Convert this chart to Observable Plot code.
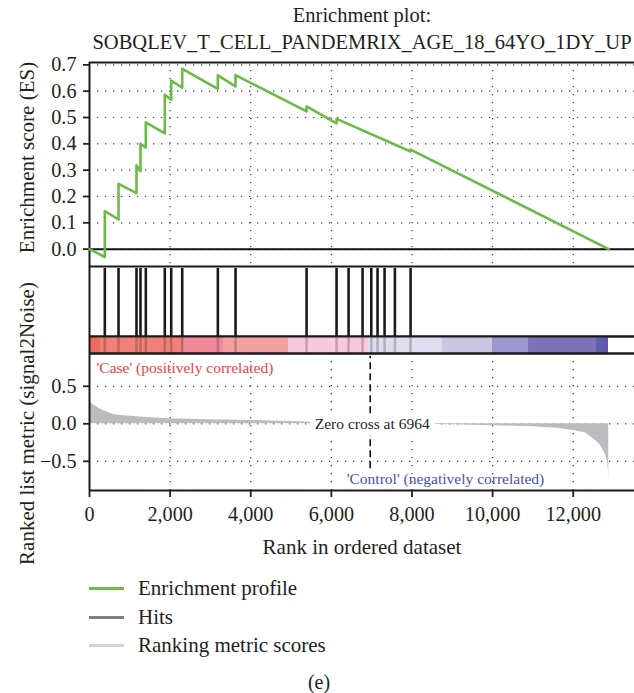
<!DOCTYPE html>
<html><head><meta charset="utf-8">
<script src="https://cdn.jsdelivr.net/npm/d3@7"></script>
<script src="https://cdn.jsdelivr.net/npm/@observablehq/plot@0.6"></script>
<style>
body{margin:0;background:#fff;}
#root{position:relative;width:634px;height:693px;font-family:"Liberation Serif",serif;color:#231f20;overflow:hidden;background:#fff}
#root svg{position:absolute;left:0;}
g[aria-label$="-axis tick"]{stroke-width:1.8px}
.leg{position:absolute;left:89px;height:24px;display:flex;align-items:center;font-size:21px;white-space:nowrap}
.sw{width:35px;height:3px;margin-right:14px}
</style></head><body><div id="root"></div>
<script>
// ---- text ----
const titleLines = ["Enrichment plot:", "SOBQLEV_T_CELL_PANDEMRIX_AGE_18_64YO_1DY_UP"];
const esAxisLabel = "Enrichment score (ES)";
const metricAxisLabel = "Ranked list metric (signal2Noise)";
const xAxisLabel = "Rank in ordered dataset";
const caseLabel = "'Case' (positively correlated)";
const controlLabel = "'Control' (negatively correlated)";
const zeroCross = 6964;
const legendLabels = ["Enrichment profile", "Hits", "Ranking metric scores"];
const legendColors = ["#6cbb45", "#7f7f7f", "#d3d3d3"];
const panelLabel = "(e)";

// ---- ticks ----
const xTicks = [0, 2000, 4000, 6000, 8000, 10000, 12000];
const esTicks = [0, 0.1, 0.2, 0.3, 0.4, 0.5, 0.6, 0.7];
const metricTicks = [-0.5, 0, 0.5];

// ---- data ----
const hitRanks = [380, 720, 1166, 1265, 1397, 1868, 2027, 2300, 3184, 3623, 5385, 6129, 6427, 6774, 6990, 7146, 7320, 7576, 7965];
const esRanks  = [0, 380, 380, 720, 720, 1166, 1166, 1265, 1265, 1397, 1397, 1868, 1868, 2027, 2027, 2300, 2300, 3184, 3184, 3623, 3623, 5385, 5385, 6129, 6129, 7965, 7965, 12880];
const esValues = [0, -0.03, 0.144, 0.113, 0.248, 0.213, 0.318, 0.296, 0.40, 0.386, 0.482, 0.44, 0.586, 0.568, 0.64, 0.613, 0.685, 0.609, 0.66, 0.618, 0.661, 0.523, 0.542, 0.478, 0.495, 0.371, 0.378, 0];
const metricRanks  = [0, 100, 250, 440, 600, 770, 1100, 1500, 2000, 3000, 4000, 5000, 5500, 6000, 6964, 8000, 9000, 10000, 11000, 11600, 12000, 12300, 12500, 12650, 12720, 12800, 12845, 12870, 12880];
const metricValues = [0.30, 0.25, 0.20, 0.155, 0.125, 0.11, 0.098, 0.08, 0.067, 0.054, 0.044, 0.03, 0.02, 0.014, 0, -0.006, -0.013, -0.025, -0.04, -0.06, -0.09, -0.12, -0.2, -0.27, -0.33, -0.41, -0.49, -0.6, -0.75];
const barStarts = [0, 273, 2332, 3324, 4937, 6921, 8757, 9997, 10891, 12578, 12776];
const barEnds   = [273, 2332, 3324, 4937, 6921, 8757, 9997, 10891, 12578, 12776, 12875];
const barColors = ["#ef6a5e", "#f28078", "#f2899a", "#f5a0a0", "#f8c8dc", "#dedcef", "#cdc6e2", "#9b99cd", "#7d72b9", "#5f5ea9", "#6e4eae"];

// ---- layout ----
const W = 634, ML = 89, MR = 0;
const xDomain = [0, 13520];
const esDomain = [-0.066, 0.709];
const metricDomain = [-0.889, 0.937];
const dashSpan = [-0.6, 0.9];
const ink = "#231f20";
const baseStyle = {background: "none", overflow: "visible", fontFamily: "'Liberation Serif', serif", fontSize: "20.2px", color: ink};
const grid = {stroke: "#3a3a3a", strokeWidth: 1.2, strokeDasharray: "1.2,6.8"};
const border = {stroke: "#1a1a1a", strokeWidth: 2};
const commaFmt = d3.format(",d");

const esData = esRanks.map((r, i) => ({rank: r, es: esValues[i]}));
const metricData = metricRanks.map((r, i) => ({rank: r, value: metricValues[i]}));
const barData = barStarts.map((s, i) => ({start: s, end: barEnds[i], color: barColors[i]}));

const root = document.getElementById("root");
function place(svg, top) { svg.style.top = top + "px"; root.appendChild(svg); }

// ES panel
place(Plot.plot({
  width: W, height: 268, marginTop: 62, marginBottom: 2, marginLeft: ML, marginRight: MR,
  style: baseStyle,
  x: {domain: xDomain, axis: null},
  y: {domain: esDomain, ticks: esTicks, tickFormat: ".1f", tickSize: 6, tickPadding: 7, label: null},
  marks: [
    Plot.ruleY(esTicks, grid),
    Plot.ruleX(xTicks.slice(1), grid),
    Plot.ruleY([0], {stroke: "#111", strokeWidth: 2}),
    Plot.ruleY([esDomain[1]], border),
    Plot.ruleX([0], border),
    Plot.line(esData, {x: "rank", y: "es", stroke: legendColors[0], strokeWidth: 2.6}),
    Plot.text([titleLines[0]], {frameAnchor: "top", textAnchor: "middle", lineAnchor: "bottom", dy: -40.5, fontSize: 20.5, fill: ink}),
    Plot.text([titleLines[1]], {frameAnchor: "top", textAnchor: "middle", lineAnchor: "bottom", dy: -14, fontSize: 20.5, fill: ink}),
    Plot.text([esAxisLabel], {frameAnchor: "left", textAnchor: "middle", rotate: -90, lineAnchor: "middle", dx: -62.7, dy: -7, fontSize: 21, fill: ink})
  ]
}), 0);

// Hits panel
place(Plot.plot({
  width: W, height: 74, marginTop: 2, marginBottom: 2, marginLeft: ML, marginRight: MR,
  style: baseStyle,
  x: {domain: xDomain, axis: null},
  y: {domain: [0, 1], axis: null},
  marks: [
    Plot.ruleX(hitRanks, {stroke: "#1a1a1a", strokeWidth: 2.6, insetTop: 2}),
    Plot.ruleY([0, 1], border),
    Plot.ruleX([0], border)
  ]
}), 264);

// Color bar
place(Plot.plot({
  width: W, height: 21, marginTop: 2, marginBottom: 2, marginLeft: ML, marginRight: MR,
  style: baseStyle,
  x: {domain: xDomain, axis: null},
  y: {domain: [0, 1], axis: null},
  marks: [
    Plot.rect(barData, {x1: "start", x2: "end", fill: "color"}),
    Plot.ruleX(hitRanks, {stroke: "#000", strokeOpacity: 0.2, strokeWidth: 2.6}),
    Plot.ruleY([0, 1], border),
    Plot.ruleX([0], border)
  ]
}), 334);

// Ranked metric panel
place(Plot.plot({
  width: W, height: 212, marginTop: 2, marginBottom: 73, marginLeft: ML, marginRight: MR,
  style: baseStyle,
  x: {domain: xDomain, ticks: xTicks, tickFormat: commaFmt, tickSize: 7, tickPadding: 9, label: null},
  y: {domain: metricDomain, ticks: metricTicks, tickFormat: ".1f", tickSize: 6, tickPadding: 7, label: null},
  marks: [
    Plot.ruleY(metricTicks, grid),
    Plot.ruleX(xTicks.slice(1), grid),
    Plot.areaY(metricData, {x: "rank", y: "value", fill: "#bcbcc0"}),
    Plot.ruleX([zeroCross], {y1: dashSpan[0], y2: dashSpan[1], stroke: "#111", strokeWidth: 1.6, strokeDasharray: "7,4"}),
    Plot.text([zeroCross], {x: d => d, y: d => 0, text: d => `Zero cross at ${d}`, dx: 2, fontSize: 15.5, fill: ink, stroke: "white", strokeWidth: 12, paintOrder: "stroke"}),
    Plot.text([caseLabel], {frameAnchor: "top-left", textAnchor: "start", lineAnchor: "middle", dx: 7, dy: 15, fontSize: 15.5, fill: "#ee3e4a"}),
    Plot.text([controlLabel], {frameAnchor: "bottom", textAnchor: "middle", lineAnchor: "middle", dx: 83.5, dy: -11, fontSize: 15.5, fill: "#4652b0"}),
    Plot.text([metricAxisLabel], {frameAnchor: "left", textAnchor: "middle", rotate: -90, lineAnchor: "middle", dx: -62.7, dy: 1.5, fontSize: 21, fill: ink}),
    Plot.text([xAxisLabel], {frameAnchor: "bottom", textAnchor: "middle", lineAnchor: "bottom", dy: 63, fontSize: 21, fill: ink}),
    Plot.ruleY([metricDomain[1]], border),
    Plot.ruleY([metricDomain[0]], border),
    Plot.ruleX([0], border)
  ]
}), 351);

// Legend
const legendY = [588, 617, 645];
legendLabels.forEach((lab, i) => {
  const row = document.createElement("div");
  row.className = "leg";
  row.style.top = (legendY[i] - 12) + "px";
  const sw = document.createElement("div");
  sw.className = "sw";
  sw.style.background = legendColors[i];
  const tx = document.createElement("span");
  tx.textContent = lab;
  row.appendChild(sw); row.appendChild(tx);
  root.appendChild(row);
});
const pl = document.createElement("div");
pl.textContent = panelLabel;
pl.style.cssText = "position:absolute;left:0;width:638px;text-align:center;top:670px;font-size:20px;line-height:24px";
root.appendChild(pl);
</script></body></html>
